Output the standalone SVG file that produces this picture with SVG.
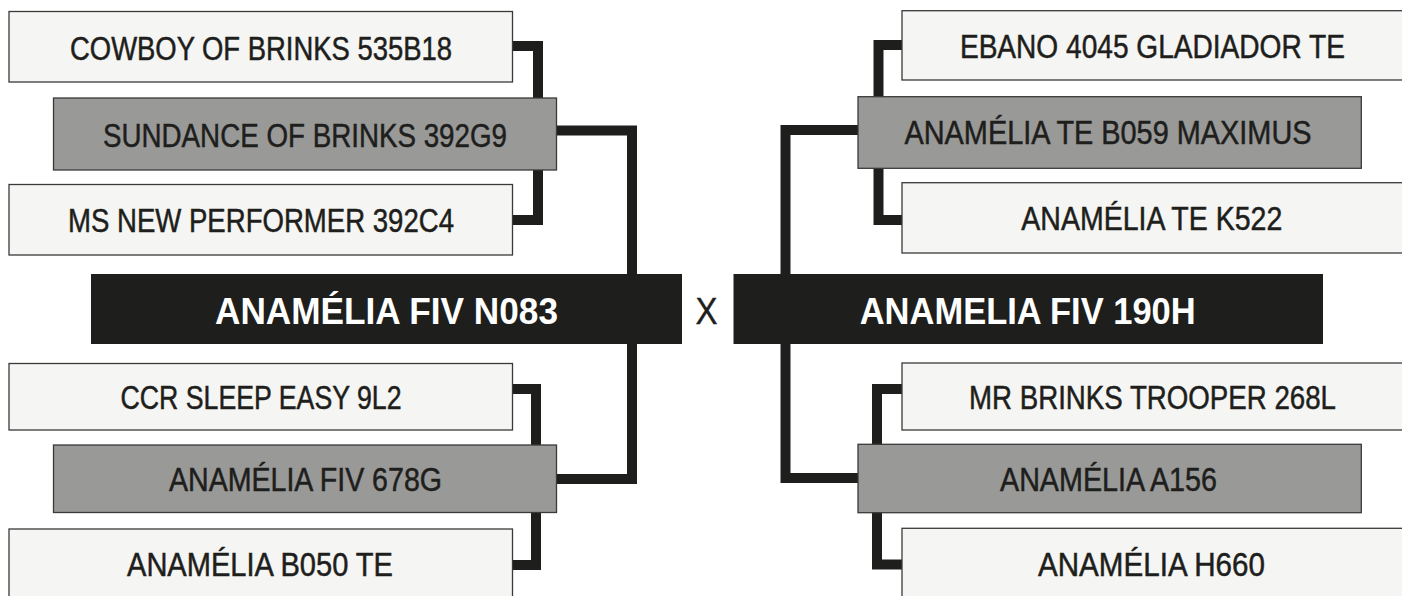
<svg xmlns="http://www.w3.org/2000/svg" width="1402" height="596" viewBox="0 0 1402 596">
<style>
.light{fill:#f5f5f3;stroke:#3a3a3a;stroke-width:1.3}
.gray{fill:#999998;stroke:#3a3a3a;stroke-width:1.3}
.dark{fill:#1e1e1c}
.lbl{font-family:"Liberation Sans",Arial,sans-serif;font-size:33px;fill:#1e1e1c;stroke:#1e1e1c;stroke-width:0.5;text-anchor:middle}
.big{font-family:"Liberation Sans",Arial,sans-serif;font-size:37px;font-weight:bold;fill:#ffffff;text-anchor:middle}
.x{font-family:"Liberation Sans",Arial,sans-serif;font-size:37px;fill:#1e1e1c;stroke:#1e1e1c;stroke-width:0.4;text-anchor:middle}
.con{fill:none;stroke:#1e1e1c;stroke-width:10;stroke-linejoin:miter;stroke-linecap:butt}
</style>
<rect width="1402" height="596" fill="#ffffff"/>
<g id="connectors">
<path class="con" d="M512,46 H538 V100"/>
<path class="con" d="M512,220 H538 V168"/>
<path class="con" d="M555,130.5 H632 V276"/>
<path class="con" d="M632,342 V479 H555"/>
<path class="con" d="M512,389 H536 V447"/>
<path class="con" d="M512,565 H536 V510"/>
<path class="con" d="M903,45 H878.5 V98"/>
<path class="con" d="M903,220 H878.5 V167"/>
<path class="con" d="M859,130 H785.5 V276"/>
<path class="con" d="M785.5,342 V478 H859"/>
<path class="con" d="M903,389 H877 V446"/>
<path class="con" d="M903,564.5 H877 V511"/>
</g>
<g id="n-cowboy"><rect class="light" x="9" y="11.5" width="503.5" height="70.5"/><text class="lbl" transform="scale(0.8,1)" x="326.25" y="60.5" textLength="477.5" lengthAdjust="spacingAndGlyphs">COWBOY OF BRINKS 535B18</text></g>
<g id="n-sundance"><rect class="gray" x="53.5" y="98" width="503" height="72"/><text class="lbl" transform="scale(0.8,1)" x="381.25" y="146.7" textLength="505" lengthAdjust="spacingAndGlyphs">SUNDANCE OF BRINKS 392G9</text></g>
<g id="n-ms"><rect class="light" x="9" y="184.5" width="503.5" height="70.5"/><text class="lbl" transform="scale(0.8,1)" x="326.25" y="232" textLength="482.5" lengthAdjust="spacingAndGlyphs">MS NEW PERFORMER 392C4</text></g>
<g id="n-n083"><rect class="dark" x="91" y="274" width="591" height="70"/><text class="big" x="386.5" y="324" textLength="343" lengthAdjust="spacingAndGlyphs">ANAMÉLIA FIV N083</text></g>
<g id="n-ccr"><rect class="light" x="9" y="363.5" width="503.5" height="66.5"/><text class="lbl" transform="scale(0.8,1)" x="326.25" y="409" textLength="351.25" lengthAdjust="spacingAndGlyphs">CCR SLEEP EASY 9L2</text></g>
<g id="n-678g"><rect class="gray" x="53.5" y="445" width="503" height="67.5"/><text class="lbl" transform="scale(0.8,1)" x="381.875" y="490.7" textLength="341.25" lengthAdjust="spacingAndGlyphs">ANAMÉLIA FIV 678G</text></g>
<g id="n-b050"><rect class="light" x="9" y="529" width="503.5" height="80"/><text class="lbl" transform="scale(0.8,1)" x="325" y="576" textLength="332.5" lengthAdjust="spacingAndGlyphs">ANAMÉLIA B050 TE</text></g>
<g id="n-x"><text class="x" x="706.5" y="324" textLength="22" lengthAdjust="spacingAndGlyphs">X</text></g>
<g id="n-ebano"><rect class="light" x="902" y="10.7" width="501" height="69.3"/><text class="lbl" transform="scale(0.8,1)" x="1440.5" y="58.3" textLength="481.25" lengthAdjust="spacingAndGlyphs">EBANO 4045 GLADIADOR TE</text></g>
<g id="n-maximus"><rect class="gray" x="858" y="96.7" width="503.3" height="71.6"/><text class="lbl" transform="scale(0.8,1)" x="1385" y="144.5" textLength="508.75" lengthAdjust="spacingAndGlyphs">ANAMÉLIA TE B059 MAXIMUS</text></g>
<g id="n-k522"><rect class="light" x="902" y="182.7" width="501" height="70.3"/><text class="lbl" transform="scale(0.8,1)" x="1439.75" y="230" textLength="326.25" lengthAdjust="spacingAndGlyphs">ANAMÉLIA TE K522</text></g>
<g id="n-190h"><rect class="dark" x="733.5" y="274" width="589.5" height="70"/><text class="big" x="1027.7" y="324" textLength="336" lengthAdjust="spacingAndGlyphs">ANAMELIA FIV 190H</text></g>
<g id="n-mr"><rect class="light" x="902" y="363" width="501" height="67"/><text class="lbl" transform="scale(0.8,1)" x="1440.625" y="409" textLength="458.75" lengthAdjust="spacingAndGlyphs">MR BRINKS TROOPER 268L</text></g>
<g id="n-a156"><rect class="gray" x="858" y="444.3" width="503.3" height="68.4"/><text class="lbl" transform="scale(0.8,1)" x="1385.625" y="491" textLength="271.25" lengthAdjust="spacingAndGlyphs">ANAMÉLIA A156</text></g>
<g id="n-h660"><rect class="light" x="902" y="528.3" width="501" height="80"/><text class="lbl" transform="scale(0.8,1)" x="1439.375" y="576" textLength="283.75" lengthAdjust="spacingAndGlyphs">ANAMÉLIA H660</text></g>
</svg>
